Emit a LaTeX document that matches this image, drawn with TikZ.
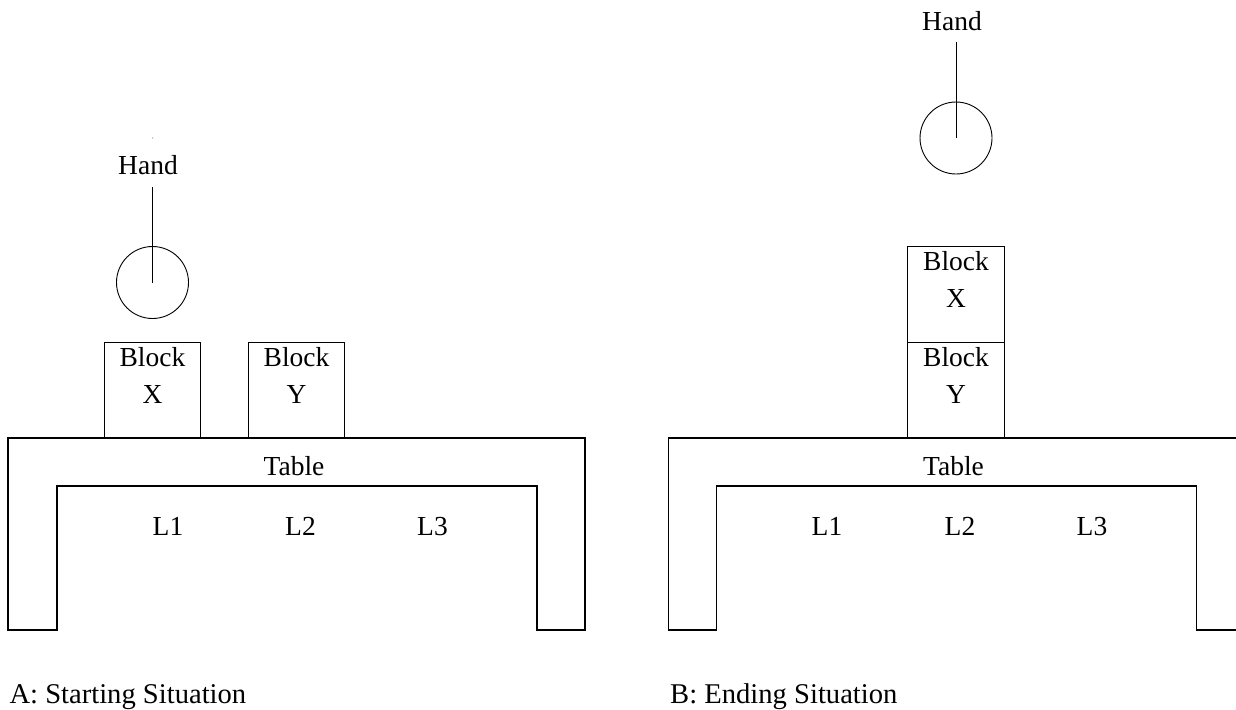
\documentclass[tikz,border=0pt]{standalone}
\usepackage{fontspec}
\setmainfont{Liberation Serif}
\begin{document}
\begin{tikzpicture}[x=1pt,y=-1pt,
  lbl/.style={font=\fontsize{27.5}{33}\selectfont, inner sep=0pt, anchor=base},
  capt/.style={font=\fontsize{28.6}{33}\selectfont, inner sep=0pt, anchor=base west},
  blk/.style={draw, line width=0.9pt, minimum width=96.5pt, minimum height=96pt, inner sep=0pt},
  handc/.style={draw, circle, line width=0.9pt, minimum size=72pt, inner sep=0pt},
  tbl/.style={draw, line width=1.1pt},
  wire/.style={line width=0.9pt}]
\useasboundingbox (0,0) rectangle (1236,709);

% ---------- A: starting situation ----------
\draw[tbl] (8,630) -- (8,438) -- (585,438) -- (585,630) -- (537,630) -- (537,486)
  -- (57,486) -- (57,630) -- cycle;
\node[lbl] (tA) at (294,475) {Table};
\node[lbl] (l1A) at (168,535) {L1};
\node[lbl] (l2A) at (300.5,535) {L2};
\node[lbl] (l3A) at (432.5,535) {L3};

\node[blk] (bxA) at (152.5,390) {};
\node[lbl] (bxA1) at (152.5,366) {Block};
\node[lbl] (bxA2) at (152.5,403) {X};
\node[blk] (byA) at (296.5,390) {};
\node[lbl] (byA1) at (296.5,366) {Block};
\node[lbl] (byA2) at (296.5,403) {Y};

\fill[gray] (152.7,138) circle (0.7pt);
\node[lbl] (hA) at (148,174) {Hand};
\node[handc] (hcA) at (152.5,282.5) {};
\coordinate (hsA) at (152.5,187);
\draw[wire] (hsA) -- (hcA.center);

\node[capt] (cA) at (9.3,703) {A: Starting Situation};

% ---------- B: ending situation ----------
\draw[tbl] (668.5,630) -- (668.5,438) -- (1245.5,438) -- (1245.5,630) -- (1196.5,630)
  -- (1196.5,486) -- (716.5,486) -- (716.5,630) -- cycle;
\node[lbl] (tB) at (953.5,475) {Table};
\node[lbl] (l1B) at (827,535) {L1};
\node[lbl] (l2B) at (960,535) {L2};
\node[lbl] (l3B) at (1092,535) {L3};

\node[blk] (byB) at (956,390) {};
\node[lbl] (byB1) at (956,366) {Block};
\node[lbl] (byB2) at (956,403) {Y};
\node[blk] (bxB) at (956,294) {};
\node[lbl] (bxB1) at (956,270) {Block};
\node[lbl] (bxB2) at (956,307) {X};

\node[lbl] (hB) at (952,30.5) {Hand};
\node[handc] (hcB) at (956,138) {};
\coordinate (hsB) at (956,42);
\draw[wire] (hsB) -- (hcB.center);

\node[capt] (cB) at (670,703) {B: Ending Situation};
\end{tikzpicture}
\end{document}
